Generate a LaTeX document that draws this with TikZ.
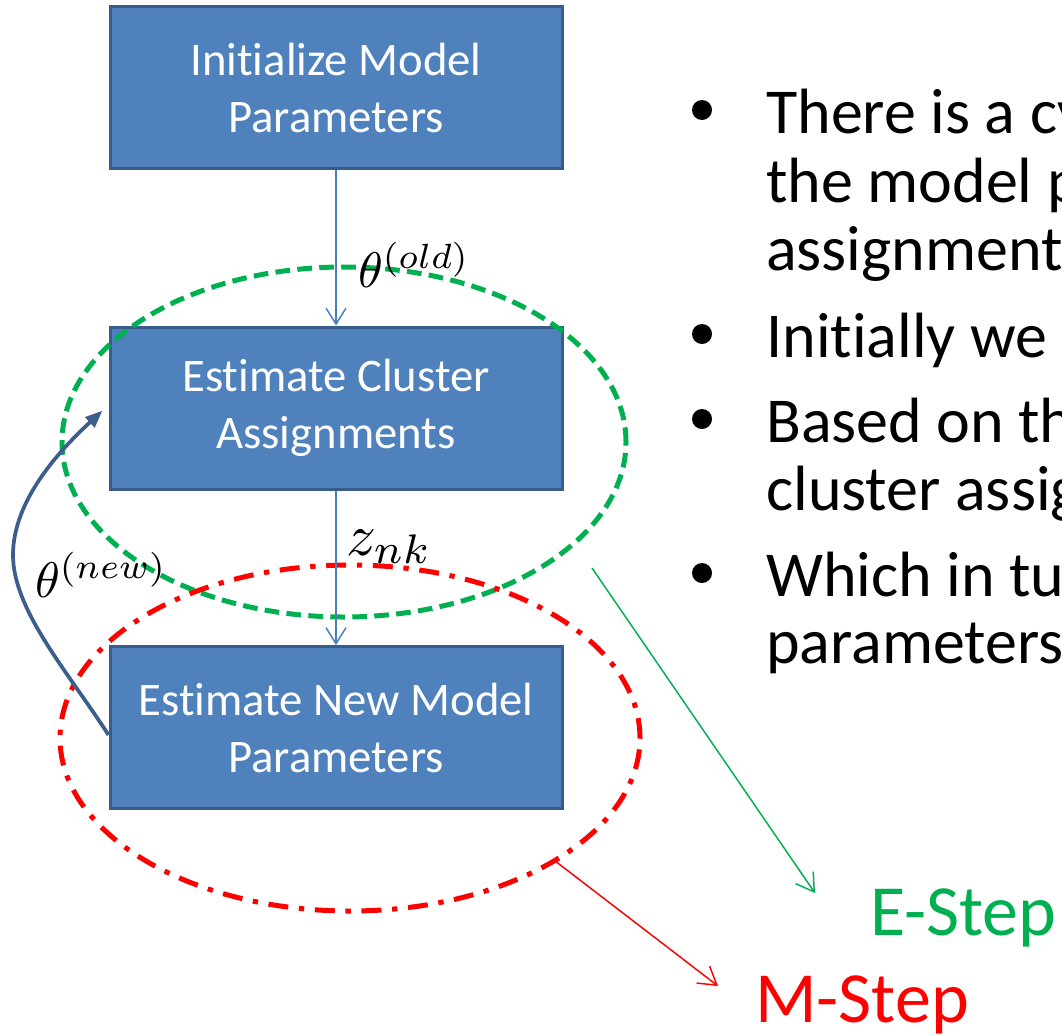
\documentclass[tikz,border=0pt]{standalone}
\usepackage{fontspec}
\setmainfont{Carlito}[Ligatures=NoCommon]
\usetikzlibrary{arrows.meta,shapes.geometric}

\definecolor{boxfill}{HTML}{4F81BD}
\definecolor{boxline}{HTML}{385D8A}
\definecolor{flow}{HTML}{4A7EBB}
\definecolor{loopblue}{HTML}{3B5E8C}
\definecolor{estep}{HTML}{00B050}
\definecolor{mstep}{HTML}{FF0000}

\begin{document}
\begin{tikzpicture}[x=0.75pt,y=-0.75pt,
  stage/.style={draw=boxline, fill=boxfill, line width=2.25pt,
    minimum width=339pt, minimum height=121.5pt, inner sep=0pt,
    text=white, align=center, font=\fontsize{35}{42.75}\selectfont},
  flowarrow/.style={draw=flow, line width=1.1pt,
    -{Straight Barb[length=12pt,width=15pt,line width=1.1pt]}},
  looparrow/.style={draw=loopblue, line width=2.8pt,
    -{Triangle[length=13pt,width=10pt]}},
  mathlabel/.style={inner sep=0pt, anchor=base west, scale=3.75},
  bullettext/.style={inner sep=0pt, anchor=base west,
    font=\fontsize{48}{51}\selectfont},
  steplabel/.style={inner sep=0pt, anchor=base west,
    font=\fontsize{54}{60}\selectfont},
  region/.style={ellipse, inner sep=0pt, line width=3.75pt},
  pointer/.style={line width=1.1pt,
    -{Straight Barb[length=13pt,width=16pt,line width=1.1pt]}},
]
\useasboundingbox (0,0) rectangle (1062,1035);
\clip (0,0) rectangle (1062,1035);

% flow chart boxes
\node[stage] (b1) at (336,87.5) {Initialize Model\\Parameters};
\node[stage] (b2) at (336,408) {Estimate Cluster\\Assignments};
\node[stage] (b3) at (336,727.5) {Estimate New Model\\Parameters};

% E-step and M-step regions
\node[region, draw=estep, minimum width=423pt, minimum height=262.5pt,
  dash pattern=on 11pt off 5.5pt] (eell) at (344,442) {};
\node[region, draw=mstep, minimum width=435pt, minimum height=259.5pt,
  dash pattern=on 15pt off 8pt on 4pt off 8pt] (mell) at (350,738) {};

% forward flow
\draw[flowarrow] (b1) -- (b2);
\draw[flowarrow] (b2) -- (b3);

% feedback loop from the M-step box back to the E-step box
\draw[looparrow] ([yshift=-5.6pt]b3.west)
  .. controls (68,672) and (13,610) .. (13,555)
  .. controls (13,500) and (60,450) .. ([xshift=-4.5pt,yshift=-2pt]b2.west);

% labels on the flow
\node[mathlabel] (told) at (357,287) {$\theta^{(old)}$};
\node[mathlabel, scale=1.18] (znk) at (345,555) {$z_{nk}$};
\node[mathlabel] (tnew) at (34,597) {$\theta^{(new)}$};

% bullet list
\foreach \y/\name/\txt in {133/l1/There is a cy, 202/l2/the model p,
    270/l3/assignment, 357/l4/Initially we g, 442/l5/Based on th,
    510/l6/cluster assig, 596/l7/Which in tu, 663/l8/parameters}
  \node[bullettext] (\name) at (766,\y) {\txt};
\foreach \y in {133,357,442,596}
  \fill (702,\y-23) circle [radius=10];

% step names
\node[steplabel, text=estep] (es) at (870,935) {E-Step};
\node[steplabel, text=mstep] (ms) at (755,1022) {M-Step};

% pointers from the regions to their names
\coordinate (estart) at (592,568);
\coordinate (etip) at (815,893);
\coordinate (mtip) at (718,986);
\draw[pointer, draw=estep] (estart) -- (etip);
\draw[pointer, draw=mstep] (mell.-31) -- (mtip);
\end{tikzpicture}
\end{document}
